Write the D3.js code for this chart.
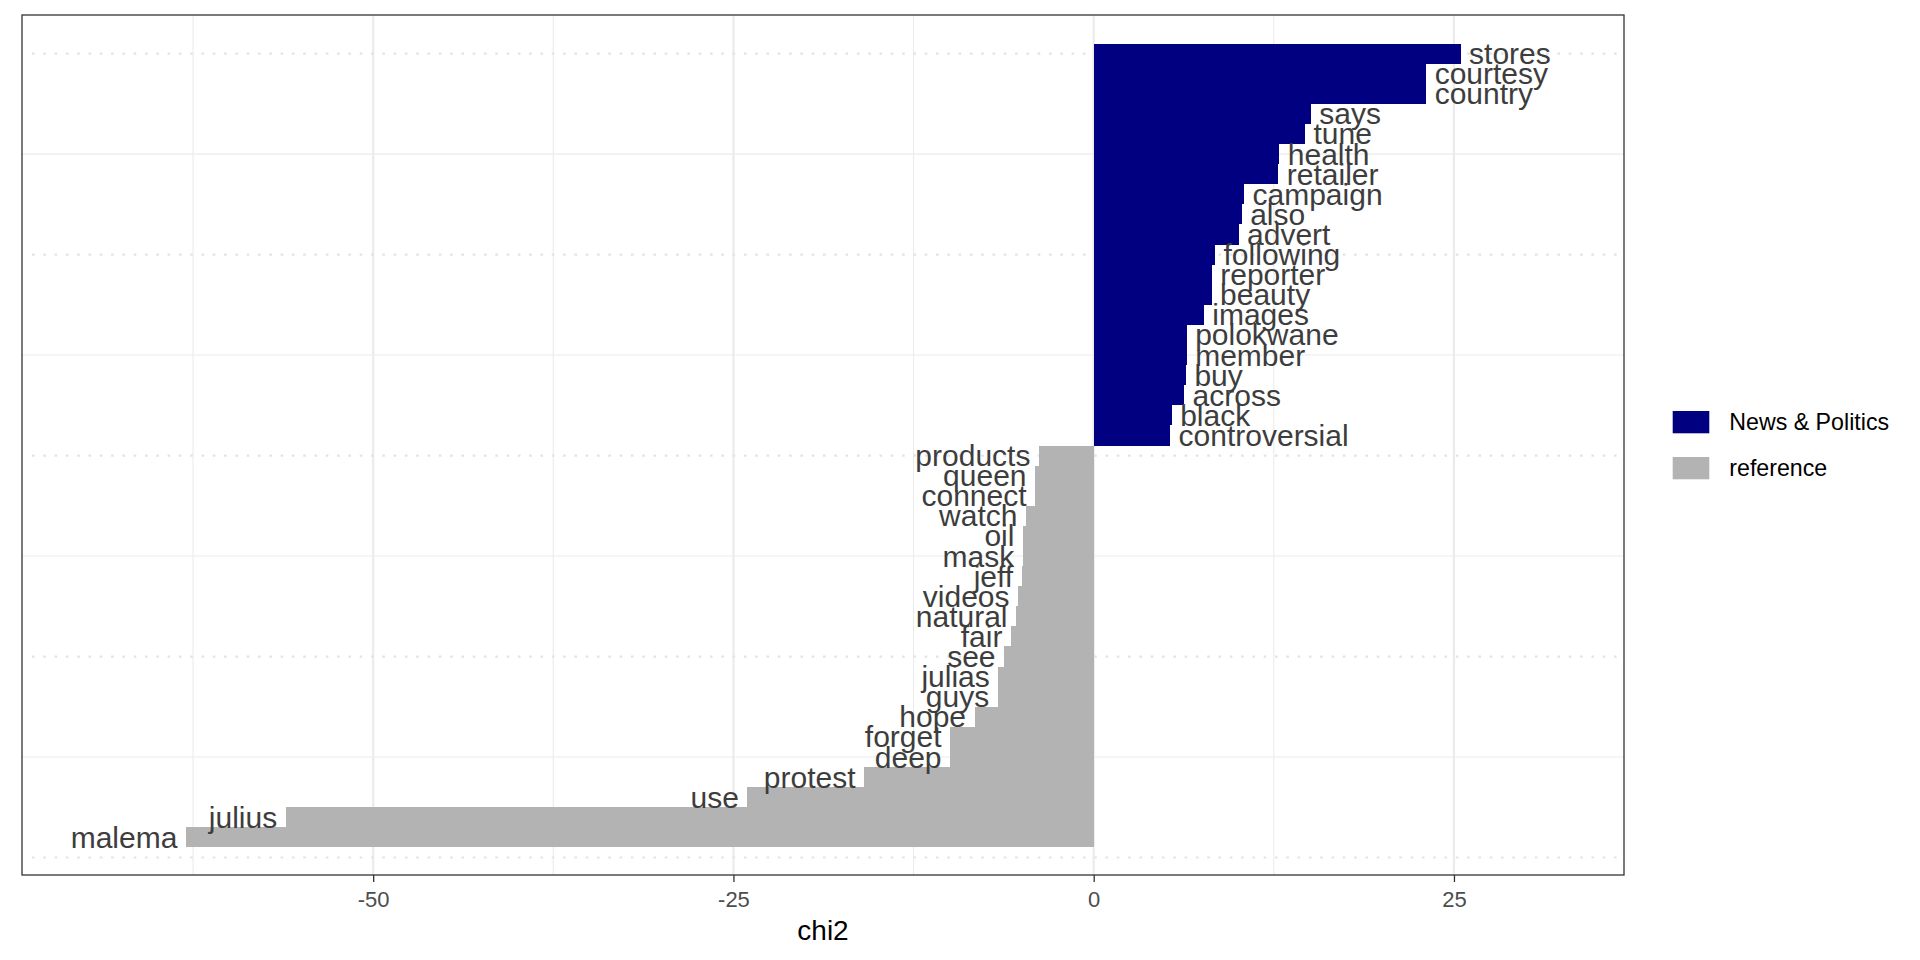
<!DOCTYPE html>
<html>
<head>
    <meta charset='utf-8'/>
    <title>chi2 keyness</title>
    <script src="https://d3js.org/d3.v7.min.js"></script>
    <style>
        body {
            margin: 0;
            background: #ffffff;
            font-family: "Liberation Sans", Arial, Helvetica, sans-serif;
        }
        .lbl {
            font-size: 30px;
            fill: #3d3d3d;
        }
        .axis text {
            font-size: 22px;
            fill: #4d4d4d;
            font-family: "Liberation Sans", Arial, Helvetica, sans-serif;
        }
        .axis line {
            stroke: #333333;
            stroke-width: 1.3px;
        }
        .axis path {
            display: none;
        }
    </style>
</head>
<body>
<div id="chart"></div>
<script>

    // words from top bar to bottom bar, with their chi2 values
    var words = ["stores", "courtesy", "country", "says", "tune", "health", "retailer",
        "campaign", "also", "advert", "following", "reporter", "beauty", "images",
        "polokwane", "member", "buy", "across", "black", "controversial",
        "products", "queen", "connect", "watch", "oil", "mask", "jeff", "videos",
        "natural", "fair", "see", "julias", "guys", "hope", "forget", "deep",
        "protest", "use", "julius", "malema"];

    var chi2 = [25.46, 23.07, 23.07, 15.06, 14.66, 12.88, 12.81,
        10.43, 10.27, 10.05, 8.42, 8.19, 8.18, 7.64,
        6.45, 6.45, 6.40, 6.27, 5.41, 5.30,
        -3.80, -4.07, -4.07, -4.70, -4.91, -4.93, -5.00, -5.25,
        -5.39, -5.74, -6.22, -6.62, -6.66, -8.27, -9.97, -9.97,
        -15.94, -24.03, -56.07, -63.00];

    var groups = ["News & Politics", "reference"];
    var groupColors = ["#000080", "#b3b3b3"];
    var xTicks = [-50, -25, 0, 25];
    var xMinor = [-62.5, -37.5, -12.5, 12.5];
    var yMajor = [0, 10, 20, 30, 40];
    var yMinor = [5, 15, 25, 35];

    var width = 1920,
        height = 960,
        panel = {left: 22, right: 1624, top: 15, bottom: 875};

    var n = words.length;
    var data = words.map(function(w, i) {
        return {
            word: w,
            value: chi2[i],
            rank: n - i,
            group: chi2[i] > 0 ? groups[0] : groups[1]
        };
    });

    var x = d3.scaleLinear().domain([-74.37, 36.80]).range([panel.left, panel.right]);
    var y = d3.scaleLinear().domain([-0.87, 41.92]).range([panel.bottom, panel.top]);
    var color = d3.scaleOrdinal().domain(groups).range(groupColors);

    var svg = d3.select("#chart").append("svg")
        .attr("width", width)
        .attr("height", height);

    svg.append("rect")
        .attr("width", width)
        .attr("height", height)
        .attr("fill", "#ffffff");

    // grid lines
    var grid = svg.append("g").attr("class", "grid");
    grid.selectAll("line.xminor").data(xMinor).enter().append("line")
        .attr("x1", function(d) { return x(d); })
        .attr("x2", function(d) { return x(d); })
        .attr("y1", panel.top).attr("y2", panel.bottom)
        .attr("stroke", "#ebebeb").attr("stroke-width", 1.1);
    grid.selectAll("line.xmajor").data(xTicks).enter().append("line")
        .attr("x1", function(d) { return x(d); })
        .attr("x2", function(d) { return x(d); })
        .attr("y1", panel.top).attr("y2", panel.bottom)
        .attr("stroke", "#ebebeb").attr("stroke-width", 2.2);
    grid.selectAll("line.yminor").data(yMinor).enter().append("line")
        .attr("x1", panel.left).attr("x2", panel.right)
        .attr("y1", function(d) { return y(d); })
        .attr("y2", function(d) { return y(d); })
        .attr("stroke", "#ebebeb").attr("stroke-width", 1.1);
    grid.selectAll("line.ymajor").data(yMajor).enter().append("line")
        .attr("x1", panel.left + 10).attr("x2", panel.right)
        .attr("y1", function(d) { return y(d); })
        .attr("y2", function(d) { return y(d); })
        .attr("stroke", "#e3e3e3").attr("stroke-width", 2.2)
        .attr("stroke-dasharray", "2.6 8.7");

    // bars
    svg.append("g").attr("class", "bars")
        .selectAll("rect").data(data).enter().append("rect")
        .attr("x", function(d) { return x(Math.min(0, d.value)); })
        .attr("width", function(d) { return Math.abs(x(d.value) - x(0)); })
        .attr("y", function(d) { return y(d.rank + 0.5); })
        .attr("height", function(d) { return y(d.rank - 0.5) - y(d.rank + 0.5); })
        .attr("fill", function(d) { return color(d.group); })
        .attr("shape-rendering", "crispEdges");

    // word labels
    svg.append("g").attr("class", "labels")
        .selectAll("text").data(data).enter().append("text")
        .attr("class", "lbl")
        .attr("x", function(d) { return d.value > 0 ? x(d.value) + 8.5 : x(d.value) - 8.5; })
        .attr("y", function(d) { return y(d.rank) + 10.5; })
        .attr("text-anchor", function(d) { return d.value > 0 ? "start" : "end"; })
        .text(function(d) { return d.word; });

    // x axis
    svg.append("g")
        .attr("class", "axis x")
        .attr("transform", "translate(0," + panel.bottom + ")")
        .call(d3.axisBottom(x).tickValues(xTicks).tickSize(7).tickPadding(9)
            .tickFormat(function(d) { return String(d); }));

    svg.append("text")
        .attr("x", (panel.left + panel.right) / 2)
        .attr("y", 940)
        .attr("text-anchor", "middle")
        .style("font-size", "28px")
        .style("fill", "#000000")
        .text("chi2");

    // panel border
    svg.append("rect")
        .attr("x", panel.left)
        .attr("y", panel.top)
        .attr("width", panel.right - panel.left)
        .attr("height", panel.bottom - panel.top)
        .attr("fill", "none")
        .attr("stroke", "#333333")
        .attr("stroke-width", 1.3);

    // legend
    var legend = svg.append("g").attr("transform", "translate(1672.7,411)");
    var item = legend.selectAll("g").data(groups).enter().append("g")
        .attr("transform", function(d, i) { return "translate(0," + (i * 46) + ")"; });
    item.append("rect")
        .attr("width", 36.6)
        .attr("height", 22.3)
        .attr("fill", function(d) { return color(d); });
    item.append("text")
        .attr("x", 56.6)
        .attr("y", 19.3)
        .style("font-size", "23.2px")
        .style("fill", "#000000")
        .text(function(d) { return d; });

</script>
</body>
</html>
